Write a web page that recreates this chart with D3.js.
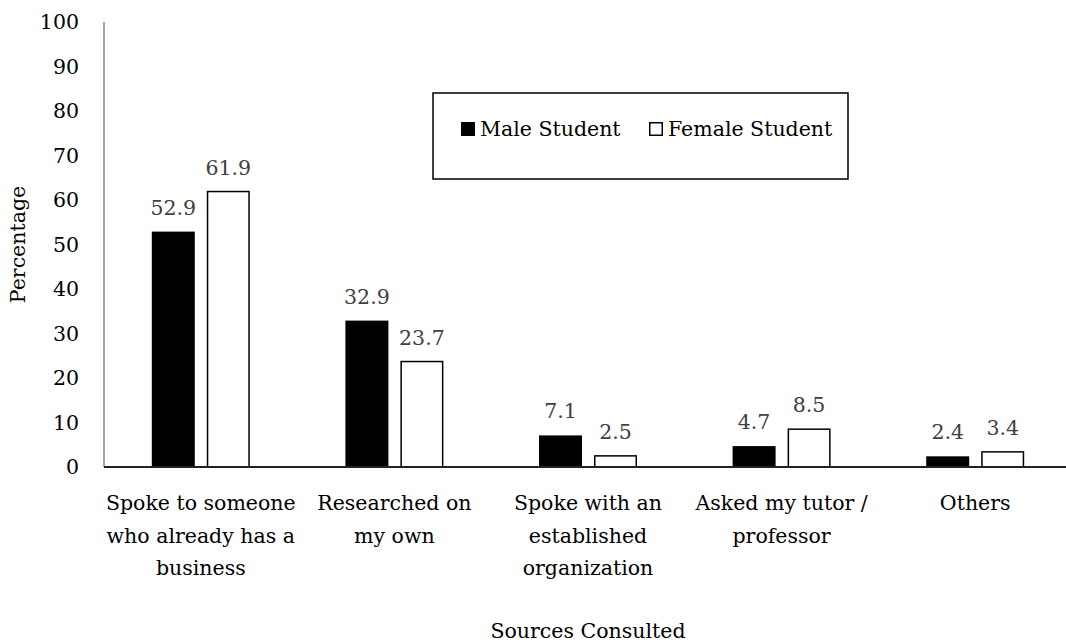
<!DOCTYPE html>
<html>
<head>
<meta charset="utf-8">
<script src="https://cdn.jsdelivr.net/npm/d3@7"></script>
<style>
  body { margin: 0; background: #fff; }
  text { font-family: "DejaVu Serif", serif; }
</style>
</head>
<body>
<svg id="chart" width="1066" height="642"></svg>
<script>
// categories (each label already split into lines as in the figure)
const categories = [
  ['Spoke to someone', 'who already has a', 'business'],
  ['Researched on', 'my own'],
  ['Spoke with an', 'established', 'organization'],
  ['Asked my tutor /', 'professor'],
  ['Others']
]
const seriesNames = ['Male Student', 'Female Student']
const maleValues = [52.9, 32.9, 7.1, 4.7, 2.4]
const femaleValues = [61.9, 23.7, 2.5, 8.5, 3.4]
const yTicks = [0, 10, 20, 30, 40, 50, 60, 70, 80, 90, 100]

const svg = d3.select('#chart')
const plotLeft = 104, plotRight = 1072, plotTop = 22, plotBottom = 467
const fontSize = 20.5

const x = d3.scaleBand().domain(d3.range(categories.length)).range([plotLeft, plotRight])
const y = d3.scaleLinear().domain([0, 100]).range([plotBottom, plotTop])
const barW = 43, gap = 12

// y axis line + tick labels
svg.append('line')
  .attr('x1', plotLeft).attr('x2', plotLeft)
  .attr('y1', y(100)).attr('y2', plotBottom)
  .attr('stroke', '#888').attr('stroke-width', 1.5)

svg.selectAll('.ytick').data(yTicks).enter().append('text')
  .attr('class', 'ytick')
  .attr('x', plotLeft - 25).attr('y', (d) => y(d))
  .attr('dy', '0.36em').attr('text-anchor', 'end')
  .attr('font-size', fontSize).attr('fill', '#000')
  .text((d) => d)

// bars
const rows = categories.map((c, i) => ({ i, male: maleValues[i], female: femaleValues[i] }))
const center = (i) => x(i) + x.bandwidth() / 2

svg.selectAll('.male').data(rows).enter().append('rect')
  .attr('class', 'male')
  .attr('x', (d) => center(d.i) - gap / 2 - barW)
  .attr('y', (d) => y(d.male))
  .attr('width', barW).attr('height', (d) => plotBottom - y(d.male))
  .attr('fill', '#000')

svg.selectAll('.female').data(rows).enter().append('rect')
  .attr('class', 'female')
  .attr('x', (d) => center(d.i) + gap / 2 + 0.75)
  .attr('y', (d) => y(d.female))
  .attr('width', barW - 1.5).attr('height', (d) => plotBottom - y(d.female))
  .attr('fill', '#fff').attr('stroke', '#000').attr('stroke-width', 1.5)

// baseline
svg.append('line')
  .attr('x1', plotLeft).attr('x2', plotRight)
  .attr('y1', plotBottom).attr('y2', plotBottom)
  .attr('stroke', '#222').attr('stroke-width', 2)

// value labels
svg.selectAll('.mlab').data(rows).enter().append('text')
  .attr('x', (d) => center(d.i) - gap / 2 - barW / 2)
  .attr('y', (d) => y(d.male) - 17)
  .attr('text-anchor', 'middle').attr('font-size', fontSize).attr('fill', '#404040')
  .text((d) => d.male.toFixed(1))

svg.selectAll('.flab').data(rows).enter().append('text')
  .attr('x', (d) => center(d.i) + gap / 2 + barW / 2)
  .attr('y', (d) => y(d.female) - 17)
  .attr('text-anchor', 'middle').attr('font-size', fontSize).attr('fill', '#404040')
  .text((d) => d.female.toFixed(1))

// category labels
const cat = svg.selectAll('.cat').data(categories).enter().append('text')
  .attr('class', 'cat')
  .attr('text-anchor', 'middle').attr('font-size', fontSize).attr('fill', '#000')
cat.selectAll('tspan').data((d, i) => d.map((t) => ({ t, i }))).enter().append('tspan')
  .attr('x', (d) => center(d.i))
  .attr('y', (d, j) => 510 + j * 32.5)
  .text((d) => d.t)

// axis titles
svg.append('text')
  .attr('x', (plotLeft + plotRight) / 2).attr('y', 638)
  .attr('text-anchor', 'middle').attr('font-size', fontSize)
  .text('Sources Consulted')

svg.append('text')
  .attr('transform', `translate(25,${(plotTop + plotBottom) / 2}) rotate(-90)`)
  .attr('text-anchor', 'middle').attr('font-size', fontSize)
  .text('Percentage')

// legend
const lg = svg.append('g')
lg.append('rect')
  .attr('x', 433).attr('y', 93).attr('width', 415).attr('height', 86)
  .attr('fill', '#fff').attr('stroke', '#000').attr('stroke-width', 1.5)

const legendX = [461, 649]
seriesNames.forEach((name, k) => {
  lg.append('rect')
    .attr('x', legendX[k] + (k ? 0.75 : 0)).attr('y', 122 + (k ? 0.75 : 0))
    .attr('width', k ? 12.5 : 14).attr('height', k ? 12.5 : 14)
    .attr('fill', k ? '#fff' : '#000')
    .attr('stroke', k ? '#000' : 'none').attr('stroke-width', 1.5)
  lg.append('text')
    .attr('x', legendX[k] + 19).attr('y', 136)
    .attr('font-size', fontSize)
    .text(name)
})
</script>
</body>
</html>
